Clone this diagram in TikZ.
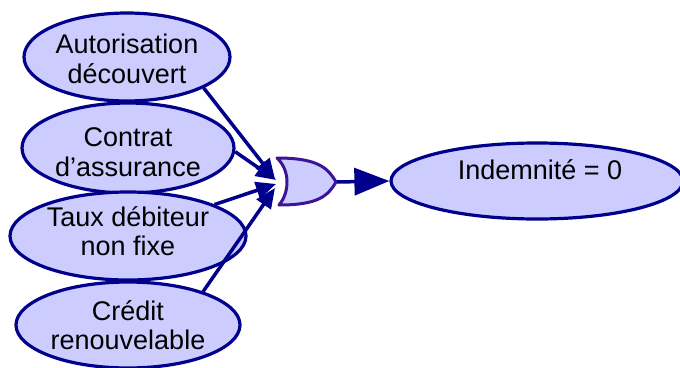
\documentclass[tikz,border=0pt]{standalone}
\usepackage{fontspec}
\setmainfont{Liberation Sans}
\usetikzlibrary{shapes.geometric,arrows.meta}
\definecolor{bubfill}{RGB}{204,204,255}
\definecolor{bubline}{RGB}{0,0,140}
\definecolor{gateline}{RGB}{60,20,150}
\tikzset{
  bub/.style={ellipse,draw=bubline,fill=bubfill,line width=3.2pt,inner sep=0pt},
  txt/.style={align=center,inner sep=0pt,font=\fontsize{27}{29.5}\selectfont},
  conn/.style={draw=bubline,line width=3.5pt,-{Triangle[length=20pt,width=17pt]}},
  outconn/.style={draw=bubline,line width=3.5pt,-{Triangle[length=35pt,width=27pt]}},
}
\begin{document}
\begin{tikzpicture}[x=1pt,y=-1pt]
\useasboundingbox (0,0) rectangle (680,367);
\node[bub,minimum width=206pt,minimum height=88pt] (e1) at (127,57) {};
\node[bub,minimum width=212pt,minimum height=90pt] (e2) at (128,148) {};
\node[bub,minimum width=236pt,minimum height=88pt] (e3) at (128,236) {};
\node[bub,minimum width=224pt,minimum height=86pt] (e4) at (128,325) {};
\node[bub,minimum width=292pt,minimum height=76pt] (e5) at (537,181) {};
\node[txt] (t1) at (127,59) {Autorisation\\découvert};
\node[txt] (t2) at (128,152) {Contrat\\d’assurance};
\node[txt] (t3) at (128,231) {Taux débiteur\\non fixe};
\node[txt] (t4) at (128,325) {Crédit\\renouvelable};
\node[txt] (t5) at (540,170) {Indemnité = 0};
% OR gate
\draw[draw=gateline,fill=bubfill,line width=3pt,line join=round]
  (277,158) .. controls (318,158) and (328,168) .. (336,182)
  .. controls (328,196) and (318,205) .. (279,205)
  .. controls (290,192) and (290,170) .. cycle;
\coordinate (g1) at (275,179);
\coordinate (g2) at (276,180);
\coordinate (g3) at (276,184);
\coordinate (g4) at (275,188);
\coordinate (gout) at (337,182);
\draw[conn] (e1.-22) -- (g1);
\draw[conn] (e2.-2) -- (g2);
\draw[conn] (e3.20) -- (g3);
\draw[conn] (e4.24) -- (g4);
\draw[outconn] (gout) -- (e5.west);
\end{tikzpicture}
\end{document}
